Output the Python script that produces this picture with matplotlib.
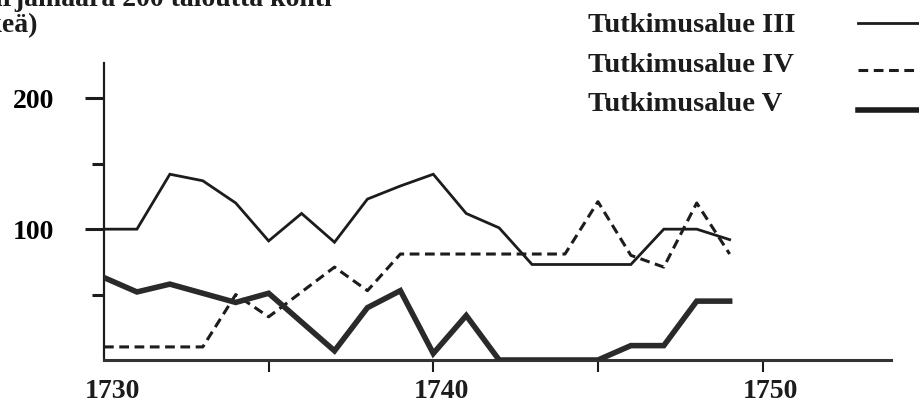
import matplotlib
matplotlib.use("Agg")
import matplotlib.pyplot as plt
from matplotlib.lines import Line2D

# ---- data ----
years = list(range(1730, 1750))
area_III = [100, 100, 142, 137, 120, 91, 112, 90, 123, 133, 142, 112, 101, 73, 73, 73, 73, 100, 100, 92]
area_IV = [10, 10, 10, 10, 50, 33, 52, 71, 53, 81, 81, 81, 81, 81, 81, 121, 80, 71, 120, 81]
area_V = [63, 52, 58, 51, 44, 51, 29, 7, 40, 53, 5, 34, 0, 0, 0, 0, 11, 11, 45, 45]

series_labels = ["Tutkimusalue III", "Tutkimusalue IV", "Tutkimusalue V"]
ytick_major = [100, 200]
ytick_minor = [50, 150]
xtick_positions = [1735, 1740, 1745, 1750]
xlabel_years = [1730, 1740, 1750]
title_lines = ["Karjamäärä 200 taloutta kohti", "(henkeä)"]

plt.rcParams["font.family"] = ["Liberation Serif", "DejaVu Serif"]
plt.rcParams["font.weight"] = "bold"
plt.rcParams["lines.scale_dashes"] = False

W, H = 920, 405
fig = plt.figure(figsize=(W / 100, H / 100), dpi=100)
fig.patch.set_facecolor("white")

# axes placement in pixels
x0, x1 = 104, 891
y_base, y_top = 360, 63
ax = fig.add_axes([x0 / W, (H - y_base) / H, (x1 - x0) / W, (y_base - y_top) / H])
ax.set_xlim(1730, 1753.9)
ax.set_ylim(0, 227)
ax.patch.set_alpha(0)

ink = "#1c1c1c"
ax.plot(years, area_III, color=ink, lw=2.0, solid_joinstyle="miter", zorder=3)
ax.plot(years, area_IV, color=ink, lw=2.2, dashes=(7, 4), zorder=3)
ax.plot(years, area_V, color="#2a2a2a", lw=4.0, solid_joinstyle="miter", zorder=3)

for s in ("top", "right"):
    ax.spines[s].set_visible(False)
ax.spines["left"].set_linewidth(1.6)
ax.spines["left"].set_color(ink)
ax.spines["bottom"].set_linewidth(2.2)
ax.spines["bottom"].set_color("#333333")

ax.set_yticks(ytick_major)
ax.set_yticks(ytick_minor, minor=True)
ax.set_yticklabels([str(v) for v in ytick_major])
ax.tick_params(axis="y", which="major", direction="out", length=14, width=2.2,
               color=ink, pad=22, labelsize=20)
ax.tick_params(axis="y", which="minor", direction="out", length=9, width=2.2, color=ink)

ax.set_xticks(xtick_positions)
ax.set_xticklabels([])
ax.tick_params(axis="x", which="major", direction="out", length=8.5, width=1.5, color=ink)

for yr in xlabel_years:
    ax.annotate(str(yr), xy=(yr, 0), xycoords=("data", "axes fraction"),
                xytext=(6, -14), textcoords="offset points",
                ha="center", va="top", fontsize=20, fontweight="bold", color=ink)

# legend: labels on the left, line samples on the right
legend_rows = [(25, 23), (65, 70), (104, 110)]
styles = [dict(lw=2.0), dict(lw=2.2, dashes=(7, 4)), dict(lw=4.0)]
for lab, (ty, ly), st in zip(series_labels, legend_rows, styles):
    fig.text(588 / W, 1 - ty / H, lab, ha="left", va="center", fontsize=20.5,
             fontweight="bold", color=ink)
    ln = Line2D([858 / W, 930 / W], [1 - ly / H, 1 - ly / H], transform=fig.transFigure,
                color=ink, **st)
    fig.add_artist(ln)

# partially cropped title at the top left (cut by the image edge as in the reference)
fig.text(332 / W, 1 - 6 / H, title_lines[0], ha="right", va="baseline",
         fontsize=20, fontweight="bold", color=ink)
fig.text(38 / W, 1 - 32 / H, title_lines[1], ha="right", va="baseline",
         fontsize=20, fontweight="bold", color=ink)

fig.savefig("out.png", dpi=100, facecolor="white")
